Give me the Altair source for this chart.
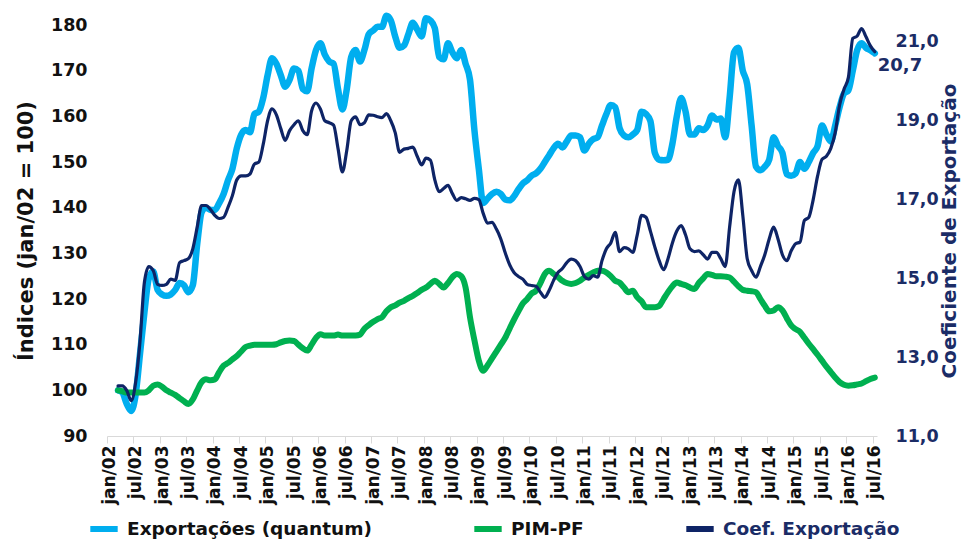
import json
import altair as alt
import pandas as pd

FONT = "DejaVu Sans"
LB = "#00AEEF"
GR = "#00B050"
NV = "#0E2466"
NV_TXT = "#1B2C66"
BLK = "#111111"

PT = ["jan", "fev", "mar", "abr", "mai", "jun", "jul", "ago", "set", "out", "nov", "dez"]
months = [f"{m}/{y:02d}" for y in range(2, 17) for m in PT][:175]

tick_labels = ["jan/02", "jul/02", "jan/03", "jul/03", "jan/04", "jul/04", "jan/05", "jul/05",
               "jan/06", "jul/06", "jan/07", "jul/07", "jan/08", "jul/08", "jan/09", "jul/09",
               "jan/10", "jul/10", "jan/11", "jul/11", "jan/12", "jul/12", "jan/13", "jul/13",
               "jan/14", "jul/14", "jan/15", "jul/15", "jan/16", "jul/16"]

series_names = ["Exportações (quantum)", "PIM-PF", "Coef. Exportação"]

exportacoes = [None, None,
    100, 99.5, 97, 95.5, 99, 108, 117, 124.5, 126, 122,
    121, 120.7, 121, 122, 123.5, 123, 121.5, 123, 132, 139, 140, 139.5,
    139.5, 141, 143, 146, 148.5, 153, 156, 157, 156.5, 160.5, 161, 164,
    169, 172.7, 171.5, 169, 166.5, 168, 170.5, 170, 166, 165.5, 170.5, 174.5,
    176, 173.5, 172, 171.5, 166, 161.5, 166, 173, 174.5, 172, 174.5, 178,
    178.8, 179.6, 179.6, 182, 181, 177.5, 175, 175.5, 178, 180.5, 179, 177.5,
    181.5, 181, 179.3, 173, 172.5, 176, 174, 172.7, 174.5, 171.5, 168, 157,
    148.5, 141, 142, 143, 143.5, 143, 141.8, 141.6, 142.5, 144, 145.3, 146,
    147, 147.5, 148.5, 150, 151.5, 153, 154, 153.2, 154.5, 155.8, 155.8, 155.4,
    152.5, 154, 155, 155.4, 158, 160.5, 162.5, 162, 157.4, 155.8, 155.4, 156,
    157, 161, 160.5, 159, 152, 150.5, 150.4, 150.5, 154, 160, 164, 161,
    156, 156, 157.4, 157, 158, 160.2, 159.3, 159.5, 155.4, 164, 174, 175,
    170, 167, 158, 149, 148.2, 149, 150.5, 155.4, 153.5, 152, 147.3, 147,
    147.5, 150, 148.5, 150, 152, 153.5, 158, 156, 154.5, 158, 162, 165,
    165.7, 170, 174.5, 176, 175, 174.5, 173.8]

pim_pf = [None, None,
    100, 99.8, 99.5, 99.5, 99.5, 99.5, 99.5, 100, 101, 101.3,
    100.8, 100, 99.5, 99, 98.3, 97.6, 97, 98, 100, 101.8, 102.4, 102.2,
    102.4, 104, 105.4, 106, 106.8, 107.5, 108.5, 109.5, 109.8, 110, 110, 110,
    110, 110, 110.1, 110.5, 110.8, 110.9, 110.8, 110, 109.2, 108.7, 110, 111.5,
    112.3, 112, 112, 112, 112.2, 112, 112, 112, 112, 112.2, 113.5, 114.3,
    115, 115.6, 116, 117.3, 118.2, 118.6, 119.2, 119.6, 120.2, 120.7, 121.3, 122,
    122.5, 123.3, 124, 123.3, 122.5, 123.5, 124.8, 125.5, 125, 122.5, 116, 111,
    106.5, 104.3, 105.5, 107, 108.5, 110, 111.5, 113.5, 115.5, 117.3, 119, 120,
    121.2, 121.8, 123.5, 125.5, 126.2, 125.5, 124.8, 124, 123.5, 123.3, 123.5, 124,
    124.7, 125.3, 125.8, 126.2, 126.2, 125.8, 125, 124, 123.6, 122.5, 121.5, 121.8,
    120.4, 119.5, 118.2, 118.2, 118.2, 118.5, 120, 121.5, 122.8, 123.6, 123.3, 123,
    122.5, 122.2, 123.5, 124.5, 125.5, 125.3, 125, 125, 124.9, 124.7, 123.8, 122.8,
    122, 121.8, 121.7, 121.5, 120, 118.5, 117.3, 117.5, 118.2, 117.5, 115.8, 114.2,
    113.4, 112.8, 111.5, 110.2, 109, 107.8, 106.5, 105.2, 104, 102.8, 101.8, 101.2,
    101, 101.1, 101.3, 101.5, 102, 102.5, 102.8]

coef_exportacao = [None, None,
    12.27, 12.27, 12.15, 11.9, 12.35, 13.4, 14.9, 15.3, 15.2, 14.85,
    14.82, 14.85, 14.98, 14.95, 15.4, 15.45, 15.5, 15.75, 16.3, 16.85, 16.85, 16.75,
    16.6, 16.52, 16.55, 16.8, 17.1, 17.5, 17.6, 17.6, 17.65, 17.9, 17.95, 18.4,
    19.0, 19.3, 19.15, 18.8, 18.5, 18.75, 18.9, 19.0, 18.75, 18.65, 19.25, 19.45,
    19.3, 19.0, 18.95, 18.89, 18.3, 17.7, 18.25, 19.0, 19.1, 18.9, 18.95, 19.15,
    19.14, 19.1, 19.08, 19.18, 19.0, 18.7, 18.2, 18.28, 18.3, 18.33, 18.1, 17.88,
    18.05, 18.0, 17.5, 17.2, 17.28, 17.36, 17.15, 16.98, 17.05, 17.02, 16.98, 17.03,
    17.0, 16.65, 16.4, 16.42, 16.25, 16.0, 15.65, 15.35, 15.15, 15.05, 14.98, 14.85,
    14.82, 14.8, 14.65, 14.52, 14.7, 14.95, 15.15, 15.25, 15.4, 15.49, 15.45, 15.3,
    15.05, 14.98, 15.07, 15.03, 15.45, 15.75, 15.9, 16.17, 15.68, 15.78, 15.75, 15.66,
    16.1, 16.6, 16.55, 16.2, 15.8, 15.45, 15.22, 15.5, 15.9, 16.2, 16.34, 16.1,
    15.75, 15.68, 15.7, 15.6, 15.49, 15.66, 15.66, 15.5, 15.3, 16.3, 17.2, 17.5,
    16.6, 15.5, 15.2, 15.03, 15.3, 15.6, 16.0, 16.3, 16.0, 15.6, 15.45, 15.7,
    15.88, 15.92, 16.47, 16.55, 17.0, 17.6, 18.02, 18.1, 18.3, 18.7, 19.4, 19.8,
    20.1, 21.09, 21.15, 21.34, 21.13, 20.9, 20.75]

last_label = "20,7"


def long_df(values, name):
    rows = []
    for i, v in enumerate(values):
        if v is not None:
            rows.append({"t": i + 0.5, "mes": months[i], "series": name, "value": v})
    return pd.DataFrame(rows)


df_exp = long_df(exportacoes, series_names[0])
df_pim = long_df(pim_pf, series_names[1])
df_coef = long_df(coef_exportacao, series_names[2])
df_last = df_coef.tail(1).assign(label=last_label)

legend = alt.Legend(
    orient="none", legendX=-20, legendY=487, direction="horizontal", title=None,
    symbolType="stroke", symbolSize=750, symbolStrokeWidth=6, labelFont=FONT, labelFontSize=18.5,
    labelFontWeight="bold", labelOffset=6, columnPadding=90, labelLimit=400,
    labelColor={"expr": "datum.label == 'Coef. Exportação' ? '%s' : '%s'" % (NV_TXT, BLK)},
)
color = alt.Color("series:N", scale=alt.Scale(domain=series_names, range=[LB, GR, NV]), legend=legend)

label_expr = json.dumps(tick_labels) + "[floor(datum.value / 6)]"
x_enc = alt.X("t:Q", scale=alt.Scale(domain=[0, 175], nice=False, zero=False),
              axis=alt.Axis(values=list(range(0, 175, 6)), labelExpr=label_expr, labelAngle=270,
                            labelOffset=2.2, labelFont=FONT, labelFontSize=17, labelFontWeight="bold",
                            labelColor=BLK, labelPadding=2, tickSize=7, tickColor="#D9D9D9",
                            domainColor="#D9D9D9", grid=False, title=None, labelOverlap=False,
                            labelFlush=False))

y_left = alt.Y("value:Q", scale=alt.Scale(domain=[90, 180], nice=False, zero=False),
               axis=alt.Axis(values=list(range(90, 181, 10)), ticks=False, domain=False, grid=False,
                             labelPadding=20, labelFont=FONT, labelFontSize=17.5, labelFontWeight="bold",
                             labelColor=BLK, title="Índices (jan/02 = 100)", titleFont=FONT,
                             titleFontSize=21, titleFontWeight="bold", titleColor=BLK, titlePadding=14))

y_right = alt.Y("value:Q", scale=alt.Scale(domain=[11, 21.43], nice=False, zero=False),
                axis=alt.Axis(orient="right", values=[11, 13, 15, 17, 19, 21], ticks=False, domain=False,
                              grid=False, labelExpr="replace(format(datum.value, '.1f'), '.', ',')",
                              labelPadding=18, labelFont=FONT, labelFontSize=17.5, labelFontWeight="bold",
                              labelColor=NV_TXT, title="Coeficiente de Exportação", titleFont=FONT,
                              titleFontSize=20, titleFontWeight="bold", titleColor=NV_TXT,
                              titleAngle=270, titlePadding=21))

line_kw = dict(interpolate="monotone", strokeCap="round", strokeJoin="round")

exp_line = alt.Chart(df_exp).mark_line(strokeWidth=6.5, **line_kw).encode(x=x_enc, y=y_left, color=color)
pim_line = alt.Chart(df_pim).mark_line(strokeWidth=6, **line_kw).encode(x=x_enc, y=y_left, color=color)
coef_line = alt.Chart(df_coef).mark_line(strokeWidth=3.2, **line_kw).encode(x=x_enc, y=y_right, color=color)
coef_text = alt.Chart(df_last).mark_text(align="left", baseline="middle", dx=3, dy=14, font=FONT,
                                         fontSize=18, fontWeight="bold", color=NV_TXT).encode(
    x=x_enc, y=y_right, text="label:N")

left = alt.layer(exp_line, pim_line)
right = alt.layer(coef_line, coef_text)

chart = alt.layer(left, right).resolve_scale(y="independent").properties(
    width=770, height=411,
    autosize=alt.AutoSizeParams(type="none"),
    padding={"left": 99, "top": 17, "right": 84, "bottom": 105},
).configure_view(stroke=None)

chart.save("out.html", embed_options={"renderer": "svg", "actions": False})
